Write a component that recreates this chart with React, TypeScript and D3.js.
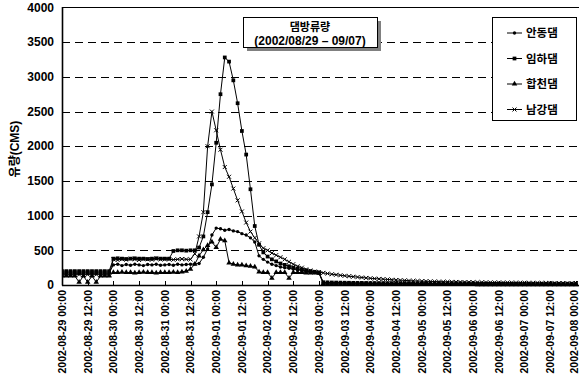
import React from 'react';
import * as d3 from 'd3';

const W = 579;
const H = 387;
const STEP_HOURS = 2; // one value every 2 hours, starting 2002-08-29 00:00

const tickLabels = [
  '2002-08-29 00:00', '2002-08-29 12:00', '2002-08-30 00:00', '2002-08-30 12:00',
  '2002-08-31 00:00', '2002-08-31 12:00', '2002-09-01 00:00', '2002-09-01 12:00',
  '2002-09-02 00:00', '2002-09-02 12:00', '2002-09-03 00:00', '2002-09-03 12:00',
  '2002-09-04 00:00', '2002-09-04 12:00', '2002-09-05 00:00', '2002-09-05 12:00',
  '2002-09-06 00:00', '2002-09-06 12:00', '2002-09-07 00:00', '2002-09-07 12:00',
  '2002-09-08 00:00',
];
const yTicks = [0, 500, 1000, 1500, 2000, 2500, 3000, 3500, 4000];

// 안동댐
const andong = [
  170, 170, 170, 170, 170, 170, 170, 170, 170, 170, 170, 170,
  290, 300, 280, 295, 285, 300, 290, 280, 295, 290, 300, 285,
  290, 295, 285, 300, 290, 295, 300, 305, 310, 400, 520, 720,
  820, 810, 790, 800, 780, 770, 740, 720, 680, 620, 420, 370,
  330, 300, 280, 260, 250, 240, 230, 220, 210, 200, 190, 180,
  170, 35, 33, 31, 30, 29, 28, 27, 26, 25, 25, 24,
  23, 23, 22, 22, 21, 21, 20, 20, 20, 19, 19, 19,
  18, 18, 18, 17, 17, 17, 16, 16, 16, 15, 15, 15,
  15, 14, 14, 14, 14, 13, 13, 13, 13, 12, 12, 12,
  12, 12, 12, 11, 11, 11, 11, 11, 10, 10, 10, 10,
  10,
];
// 임하댐
const imha = [
  200, 200, 200, 200, 200, 200, 200, 200, 200, 200, 200, 200,
  380, 385, 380, 375, 380, 385, 380, 380, 375, 380, 385, 380,
  380, 380, 490, 500, 500, 495, 500, 500, 540, 700, 1050, 1450,
  2050, 2750, 3280, 3220, 2950, 2620, 2220, 1880, 1380, 850, 580, 470,
  410, 370, 340, 310, 290, 270, 250, 235, 220, 210, 200, 190,
  180, 40, 38, 36, 35, 34, 33, 32, 31, 30, 30, 29,
  28, 28, 27, 27, 26, 26, 25, 25, 25, 24, 24, 24,
  23, 23, 23, 22, 22, 22, 21, 21, 21, 20, 20, 20,
  20, 19, 19, 19, 19, 18, 18, 18, 18, 17, 17, 17,
  17, 17, 16, 16, 16, 16, 16, 15, 15, 15, 15, 15,
  15,
];
// 합천댐
const hapcheon = [
  130, 130, 130, 130, 40, 130, 40, 130, 40, 130, 130, 130,
  180, 180, 185, 180, 180, 175, 180, 185, 180, 180, 175, 180,
  180, 180, 185, 180, 190, 200, 230, 300, 420, 510, 570, 620,
  540, 660, 640, 320, 300, 290, 290, 280, 270, 260, 190, 180,
  180, 100, 180, 180, 180, 100, 180, 180, 180, 175, 175, 175,
  170, 20, 18, 17, 16, 15, 15, 14, 14, 13, 13, 12,
  12, 12, 11, 11, 11, 10, 10, 10, 10, 9, 9, 9,
  9, 9, 8, 8, 8, 8, 8, 7, 7, 7, 7, 7,
  7, 6, 6, 6, 6, 6, 6, 6, 5, 5, 5, 5,
  5, 5, 5, 5, 5, 5, 4, 4, 4, 4, 4, 4,
  4,
];
// 남강댐
const namgang = [
  150, 150, 150, 150, 150, 150, 150, 150, 150, 150, 150, 150,
  370, 360, 375, 365, 380, 370, 360, 375, 370, 365, 380, 370,
  370, 370, 365, 370, 375, 370, 370, 450, 700, 1050, 2000, 2500,
  2230, 1950, 1700, 1560, 1390, 1220, 1060, 900, 770, 680, 600, 530,
  500, 460, 430, 400, 370, 335, 300, 270, 250, 225, 210, 195,
  185, 175, 165, 155, 148, 140, 133, 126, 120, 114, 108, 102,
  97, 92, 88, 84, 80, 76, 72, 69, 66, 63, 60, 58,
  56, 54, 52, 50, 48, 47, 46, 45, 44, 43, 42, 41,
  40, 39, 38, 37, 36, 36, 35, 35, 34, 34, 33, 33,
  32, 32, 31, 31, 30, 30, 30, 29, 29, 29, 28, 28,
  28,
];

const seriesNames = ['안동댐', '임하댐', '합천댐', '남강댐'];
const seriesValues = [andong, imha, hapcheon, namgang];

const NUM_FONT = '"Liberation Sans", Arial, sans-serif';
const KR_FONT = '"Liberation Sans", "Noto Sans CJK KR", sans-serif';

const symbolTypes = [d3.symbolCircle, d3.symbolSquare, d3.symbolTriangle, (d3 as any).symbolTimes || d3.symbolCross];
const symbolSizes = [9, 14, 13, 12];

function markerPath(i: number) {
  return d3.symbol(symbolTypes[i], symbolSizes[i])() || '';
}

function Marker({ i, x, y }: { i: number; x: number; y: number }) {
  const stroked = i === 3;
  return (
    <path
      d={markerPath(i)}
      transform={`translate(${x},${y})`}
      fill={stroked ? 'none' : '#000'}
      stroke={stroked ? '#000' : 'none'}
      strokeWidth={1}
    />
  );
}

export default function App() {
  const left = 62;
  const bottom = 285;
  const x = d3.scaleLinear().domain([0, 240]).range([left, 576]);
  const y = d3.scaleLinear().domain([0, 4000]).range([bottom, 7.5]);

  const line = d3
    .line<number>()
    .x((_, i) => x(i * STEP_HOURS))
    .y((d) => y(d));

  const tickHours = tickLabels.map((_, i) => i * 12);

  return (
    <svg width={W} height={H} style={{ position: 'absolute', left: 0, top: 0, background: '#fff' }}>
      <defs>
        <clipPath id="plot">
          <rect x={left} y={0} width={W - left} height={bottom + 3} />
        </clipPath>
      </defs>
      <rect width={W} height={H} fill="#fff" />

      {/* grid */}
      {yTicks.slice(1, -1).map((t) => (
        <line
          key={t}
          x1={left}
          x2={W}
          y1={Math.round(y(t)) + 0.5}
          y2={Math.round(y(t)) + 0.5}
          stroke="#000"
          strokeDasharray="8,5"
        />
      ))}
      <line x1={left} x2={W} y1={7.5} y2={7.5} stroke="#000" />

      {/* axes */}
      <line x1={left + 0.5} x2={left + 0.5} y1={7} y2={bottom + 0.5} stroke="#000" strokeWidth={1.6} />
      <line x1={left} x2={W} y1={bottom + 0.5} y2={bottom + 0.5} stroke="#000" strokeWidth={1.6} />
      {tickHours.map((h) => (
        <line key={h} x1={Math.round(x(h)) + 0.5} x2={Math.round(x(h)) + 0.5} y1={bottom} y2={bottom - 4} stroke="#000" />
      ))}

      {/* series */}
      <g clipPath="url(#plot)">
        {seriesValues.map((vals, si) => (
          <path key={si} d={line(vals) || ''} fill="none" stroke="#000" strokeWidth={1} />
        ))}
        {seriesValues.map((vals, si) =>
          vals.map((v, i) => <Marker key={`${si}-${i}`} i={si} x={x(i * STEP_HOURS)} y={y(v)} />)
        )}
      </g>

      {/* y labels */}
      {yTicks.map((t) => (
        <text
          key={t}
          x={54}
          y={y(t)}
          dy="0.35em"
          textAnchor="end"
          fontFamily={NUM_FONT}
          fontWeight="bold"
          fontSize={12}
        >
          {t}
        </text>
      ))}
      <text
        transform={`translate(19,149) rotate(-90)`}
        textAnchor="middle"
        fontFamily={KR_FONT}
        fontWeight="bold"
        fontSize={12}
      >
        유량(CMS)
      </text>

      {/* x labels */}
      {tickLabels.map((lab, i) => (
        <text
          key={lab}
          transform={`translate(${Math.min(x(tickHours[i]) + 3.8, W - 1)},290) rotate(-90)`}
          textAnchor="end"
          fontFamily={NUM_FONT}
          fontWeight="bold"
          fontSize={10.5}
        >
          {lab}
        </text>
      ))}

      {/* title box */}
      <rect x={247} y={21} width={134} height={30} fill="#808080" />
      <rect x={243.5} y={17.5} width={134} height={30} fill="#fff" stroke="#000" />
      <text x={310} y={31} textAnchor="middle" fontFamily={KR_FONT} fontWeight="bold" fontSize={11}>
        댐방류량
      </text>
      <text x={310} y={44.5} textAnchor="middle" fontFamily={NUM_FONT} fontWeight="bold" fontSize={12}>
        (2002/08/29 – 09/07)
      </text>

      {/* legend */}
      <rect x={492.5} y={17.5} width={84} height={103} fill="#fff" stroke="#000" />
      {seriesNames.map((name, i) => {
        const ly = 33 + i * 25.5;
        return (
          <g key={name}>
            <line x1={507} x2={522} y1={ly} y2={ly} stroke="#000" />
            <Marker i={i} x={514.5} y={ly} />
            <text x={526} y={ly} dy="0.36em" fontFamily={KR_FONT} fontWeight="bold" fontSize={11.5}>
              {name}
            </text>
          </g>
        );
      })}
    </svg>
  );
}
